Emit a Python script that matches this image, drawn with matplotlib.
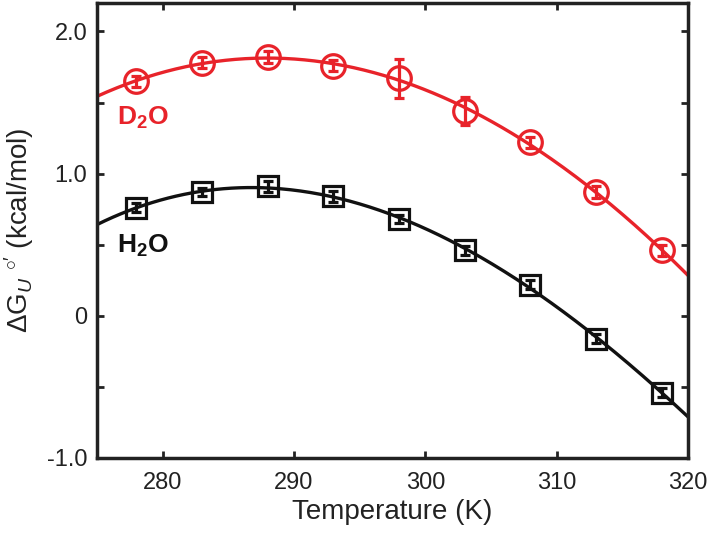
import numpy as np
import matplotlib
matplotlib.use("Agg")
import matplotlib.pyplot as plt

plt.rcParams['font.family'] = ['Liberation Sans', 'DejaVu Sans']
plt.rcParams['mathtext.fontset'] = 'custom'
plt.rcParams['mathtext.rm'] = 'Liberation Sans'
plt.rcParams['mathtext.it'] = 'Liberation Sans:italic'
plt.rcParams['mathtext.bf'] = 'Liberation Sans:bold'

temps = [278, 283, 288, 293, 298, 303, 308, 313, 318]
d2o = [1.65, 1.78, 1.82, 1.76, 1.67, 1.44, 1.22, 0.87, 0.46]
d2o_err = [0.04, 0.04, 0.04, 0.04, 0.135, 0.10, 0.04, 0.04, 0.04]
h2o = [0.76, 0.87, 0.91, 0.84, 0.68, 0.46, 0.22, -0.16, -0.54]
h2o_err = [0.03, 0.03, 0.04, 0.04, 0.03, 0.03, 0.03, 0.03, 0.03]

xticks = [280, 290, 300, 310, 320]
yticks = [-1.0, -0.5, 0.0, 0.5, 1.0, 1.5, 2.0]
ytick_labels = ['-1.0', '', '0', '', '1.0', '', '2.0']

red = '#e8232a'
black = '#111111'

fig = plt.figure(figsize=(7.09, 5.37), dpi=100)
ax = fig.add_axes([97/709, 1 - 458/537, (688-97)/709, (458-3)/537])

T = np.array(temps, dtype=float)
Tf = np.linspace(275, 320, 300)
for vals, errs, color, marker, ms in [(d2o, d2o_err, red, 'o', 17), (h2o, h2o_err, black, 's', 14)]:
    coef = np.polyfit(T, np.array(vals), 3)
    ax.plot(Tf, np.polyval(coef, Tf), color=color, lw=2.4, zorder=2)
    ax.errorbar(temps, vals, yerr=errs, fmt=marker, ms=ms, mfc='none', mec=color,
                mew=2.3, ecolor=color, elinewidth=2.3, capsize=3.5, capthick=2.3, zorder=3)

ax.text(276.5, 1.34, r'D$_\mathbf{2}$O', color=red, fontsize=19, fontweight='bold', va='baseline')
ax.text(276.5, 0.44, r'H$_\mathbf{2}$O', color=black, fontsize=19, fontweight='bold', va='baseline')

ax.set_xlim(275, 320)
ax.set_ylim(-1.0, 2.2)
ax.set_xticks(xticks)
ax.set_yticks(yticks)
ax.set_yticklabels(ytick_labels)
ax.tick_params(direction='in', length=5, width=2, labelsize=17, top=True, right=True,
               colors='#222222')
ax.tick_params(axis='x', pad=10)
ax.tick_params(axis='y', pad=7)
for s in ax.spines.values():
    s.set_linewidth(2.5)
    s.set_color('#222222')

ax.set_xlabel('Temperature (K)', fontsize=20, labelpad=4, color='#222222')
ax.set_ylabel(r'$\mathrm{\Delta G}_{U}$ $^{\circ\prime}$ (kcal/mol)', fontsize=20, labelpad=8, color='#222222')

fig.savefig('out.png', dpi=100)
